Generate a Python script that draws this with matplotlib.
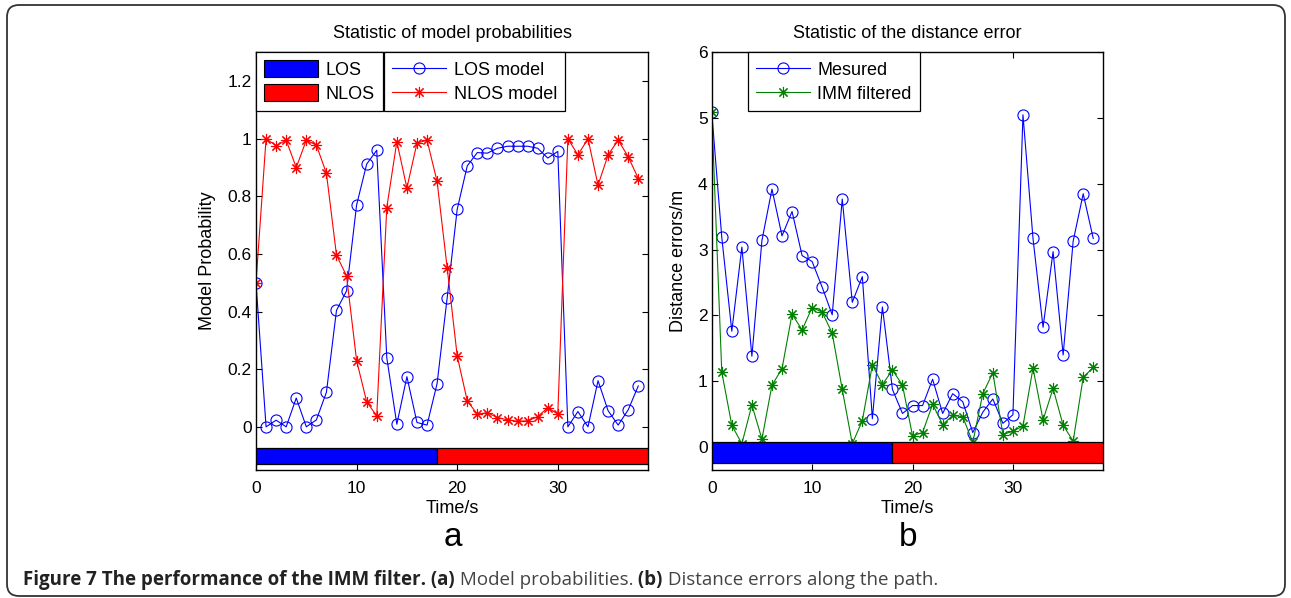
import matplotlib
matplotlib.use("Agg")
import matplotlib.pyplot as plt
import numpy as np
from matplotlib.patches import Patch, Rectangle, FancyBboxPatch
from matplotlib.lines import Line2D
from matplotlib.transforms import IdentityTransform

plt.rcParams["font.family"] = ["Liberation Sans", "DejaVu Sans"]

time_s = list(range(39))

# panel a: model probabilities
los_model = [0.50, 0.00, 0.023, 0.00, 0.10, 0.00, 0.024, 0.12, 0.404, 0.472,
             0.77, 0.912, 0.96, 0.24, 0.009, 0.174, 0.015, 0.006, 0.15, 0.447,
             0.755, 0.906, 0.952, 0.95, 0.967, 0.974, 0.974, 0.974, 0.967, 0.933,
             0.956, 0.00, 0.053, 0.00, 0.16, 0.056, 0.006, 0.059, 0.142]
nlos_model = [0.50, 1.00, 0.976, 0.995, 0.90, 0.995, 0.978, 0.88, 0.596, 0.524,
              0.23, 0.087, 0.038, 0.761, 0.99, 0.829, 0.985, 0.995, 0.852, 0.553,
              0.246, 0.09, 0.044, 0.049, 0.032, 0.024, 0.019, 0.021, 0.035, 0.067,
              0.044, 1.00, 0.944, 1.00, 0.839, 0.944, 0.995, 0.9375, 0.862]

# panel b: distance errors (m)
measured = [5.09, 3.19, 1.76, 3.04, 1.38, 3.14, 3.92, 3.21, 3.58, 2.91,
            2.82, 2.43, 2.01, 3.77, 2.20, 2.59, 0.43, 2.13, 0.875, 0.51,
            0.63, 0.63, 1.03, 0.51, 0.81, 0.69, 0.22, 0.53, 0.73, 0.36,
            0.49, 5.05, 3.17, 1.82, 2.97, 1.40, 3.13, 3.85, 3.17]
imm_filtered = [5.09, 1.14, 0.33, 0.05, 0.64, 0.12, 0.94, 1.19, 2.02, 1.78,
                2.12, 2.05, 1.73, 0.875, 0.05, 0.40, 1.25, 0.95, 1.17, 0.94,
                0.17, 0.22, 0.65, 0.34, 0.48, 0.46, 0.07, 0.81, 1.13, 0.19,
                0.24, 0.32, 1.20, 0.41, 0.89, 0.33, 0.09, 1.06, 1.21]

# channel state along the path
los_end = 18
t_end = 39

BLUE = (0, 0, 1)
RED = (1, 0, 0)
GREEN = (0, 0.5, 0)
STAR = (8, 2, 0)
FS = 13
TICK_FS = 12.5


def style_axes(ax, ylim, yticks, ylab):
    ax.set_xlim(0, t_end)
    ax.set_ylim(*ylim)
    ax.set_xticks([0, 10, 20, 30])
    ax.set_yticks(yticks)
    ax.tick_params(direction="in", top=True, right=True, length=4, width=0.8,
                   labelsize=TICK_FS)
    ax.tick_params(axis="x", pad=8)
    ax.tick_params(axis="y", pad=3)
    for s in ax.spines.values():
        s.set_linewidth(1.0)
    ax.set_xlabel("Time/s", fontsize=FS, labelpad=3)
    ax.set_ylabel(ylab, fontsize=FS, labelpad=8)


def state_bar(ax, y0, h):
    ax.add_patch(Rectangle((0, y0), los_end, h, facecolor=BLUE, edgecolor="black",
                           linewidth=0.9, zorder=5))
    ax.add_patch(Rectangle((los_end, y0), t_end - los_end, h, facecolor=RED,
                           edgecolor="black", linewidth=0.9, zorder=5))


def legend_box(ax, handles, labels, x, **kw):
    leg = ax.legend(handles, labels, loc="upper left", bbox_to_anchor=(x, 1.0),
                    borderaxespad=0, fontsize=FS, fancybox=False, framealpha=1,
                    edgecolor="black", handlelength=3.0, handleheight=1.05,
                    labelspacing=0.3, borderpad=0.45, handletextpad=0.4, **kw)
    leg.get_frame().set_linewidth(0.9)
    leg.set_zorder(10)
    return leg


fig = plt.figure(figsize=(12.91, 5.98), dpi=100)
ax1 = fig.add_axes([0.1983, 0.2140, 0.3039, 0.6985])
ax2 = fig.add_axes([0.5513, 0.2140, 0.3033, 0.6985])

# ---- panel a
ax1.plot(time_s, los_model, color=BLUE, lw=0.8, marker="o", ms=8, mfc="none",
         mew=0.8, label="LOS model")
ax1.plot(time_s, nlos_model, color=RED, lw=0.8, marker=STAR, ms=8, mew=0.8,
         label="NLOS model")
state_bar(ax1, -0.13, 0.058)
style_axes(ax1, (-0.15, 1.3), [0, 0.2, 0.4, 0.6, 0.8, 1.0, 1.2], "Model Probability")
ax1.set_yticklabels(["0", "0.2", "0.4", "0.6", "0.8", "1", "1.2"])
ax1.set_title("Statistic of model probabilities", fontsize=FS, pad=10)

h_patch = [Patch(facecolor=BLUE, edgecolor="black", lw=0.8),
           Patch(facecolor=RED, edgecolor="black", lw=0.8)]
leg1 = legend_box(ax1, h_patch, ["LOS", "NLOS"], 0.0)
ax1.add_artist(leg1)
h_line = [Line2D([], [], color=BLUE, lw=0.8, marker="o", ms=8, mfc="none", mew=0.8),
          Line2D([], [], color=RED, lw=0.8, marker=STAR, ms=8, mew=0.8)]
legend_box(ax1, h_line, ["LOS model", "NLOS model"], 0.3263)

# ---- panel b
ax2.plot(time_s, measured, color=BLUE, lw=0.8, marker="o", ms=8, mfc="none",
         mew=0.8, label="Mesured")
ax2.plot(time_s, imm_filtered, color=GREEN, lw=0.8, marker=STAR, ms=8, mew=0.8,
         label="IMM filtered")
state_bar(ax2, -0.25, 0.32)
style_axes(ax2, (-0.35, 6), [0, 1, 2, 3, 4, 5, 6], "Distance errors/m")
ax2.set_title("Statistic of the distance error", fontsize=FS, pad=10)
h2 = [Line2D([], [], color=BLUE, lw=0.8, marker="o", ms=8, mfc="none", mew=0.8),
      Line2D([], [], color=GREEN, lw=0.8, marker=STAR, ms=8, mew=0.8)]
legend_box(ax2, h2, ["Mesured", "IMM filtered"], 0.0919)

# panel letters
fig.text(453 / 1291, 1 - 537 / 598, "a", fontsize=24, ha="center", va="center")
fig.text(908 / 1291, 1 - 537 / 598, "b", fontsize=24, ha="center", va="center")

# caption, pieces laid out left to right
pieces = [("Figure 7 The performance of the IMM filter.", "bold", "#222222"),
          (" (a)", "bold", "#222222"),
          (" Model probabilities.", "normal", "#444444"),
          (" (b)", "bold", "#222222"),
          (" Distance errors along the path.", "normal", "#444444")]
renderer = fig.canvas.get_renderer()
x = 23
for txt, wt, col in pieces:
    t = fig.text(x / 1291, 1 - 585 / 598, txt, fontsize=13.5, fontweight=wt,
                 color=col, family=["Open Sans", "DejaVu Sans"], ha="left",
                 va="baseline")
    x += t.get_window_extent(renderer).width

# rounded frame around the figure
frame = FancyBboxPatch((7, 2), 1278, 591, boxstyle="round,pad=0,rounding_size=12",
                       transform=IdentityTransform(), fill=False,
                       edgecolor="#333333", linewidth=1.3)
fig.add_artist(frame)

fig.savefig("out.png", dpi=100)
